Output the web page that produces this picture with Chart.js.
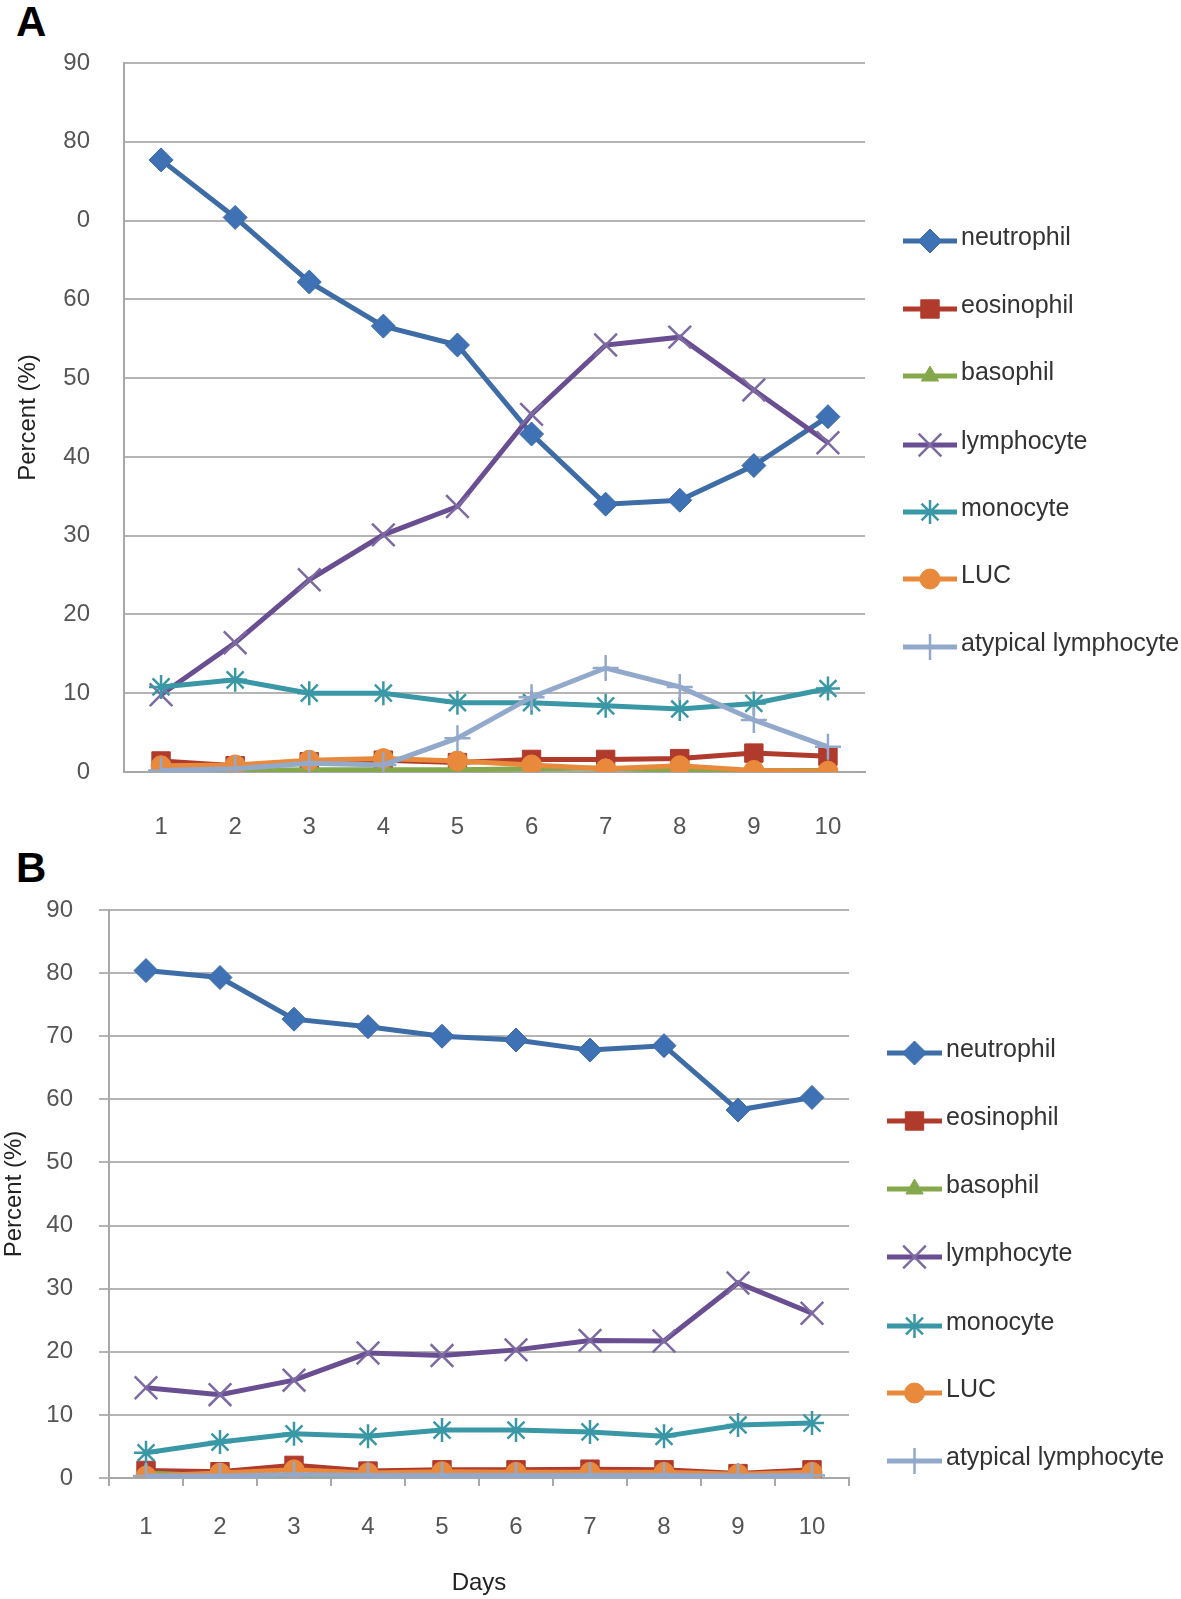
<!DOCTYPE html>
<html>
<head>
<meta charset="utf-8">
<script src="https://cdn.jsdelivr.net/npm/chart.js@4.4.1/dist/chart.umd.min.js"></script>
<style>
  body { margin: 0; background: #fff; width: 1181px; height: 1599px; position: relative; overflow: hidden; }
  .panel { position: absolute; left: 0; }
  .tag { position: absolute; font-family: "Liberation Sans", Arial, sans-serif; font-weight: bold; font-size: 42px; color: #000; }
</style>
</head>
<body>
<div class="tag" style="left:16px; top:-2px;">A</div>
<div class="panel" style="top:0;"><canvas id="chartA" width="1181" height="840"></canvas></div>
<div class="tag" style="left:16px; top:844px;">B</div>
<div class="panel" style="top:840px;"><canvas id="chartB" width="1181" height="759"></canvas></div>
<script>
'use strict';
//****************************
//DATA
//****************************
var days = ['1', '2', '3', '4', '5', '6', '7', '8', '9', '10'];
var seriesNames = ['neutrophil', 'eosinophil', 'basophil', 'lymphocyte', 'monocyte', 'LUC', 'atypical lymphocyte'];

// panel A
var neutrophilA = [77.7, 70.4, 62.2, 56.6, 54.2, 42.9, 34.0, 34.5, 38.9, 45.1];
var eosinophilA = [1.4, 0.8, 1.3, 1.5, 1.2, 1.6, 1.6, 1.7, 2.4, 2.0];
var basophilA = [0.1, 0.2, 0.3, 0.3, 0.3, 0.4, 0.5, 0.2, 0.2, 0.2];
var lymphocyteA = [9.8, 16.4, 24.4, 30.1, 33.7, 45.4, 54.2, 55.2, 48.5, 41.8];
var monocyteA = [10.8, 11.7, 10.0, 10.0, 8.8, 8.8, 8.4, 8.0, 8.7, 10.6];
var lucA = [0.8, 0.9, 1.5, 1.7, 1.4, 0.9, 0.4, 0.8, 0.2, 0.1];
var atypicalA = [0.2, 0.4, 1.1, 0.9, 4.3, 9.5, 13.2, 10.8, 6.6, 3.2];
// the reference prints "0" where 70 should be
var tickLabelsA = ['0', '10', '20', '30', '40', '50', '60', '0', '80', '90'];

// panel B
var neutrophilB = [80.4, 79.3, 72.7, 71.5, 70.0, 69.4, 67.8, 68.5, 58.3, 60.3];
var eosinophilB = [1.2, 1.0, 2.0, 1.1, 1.3, 1.3, 1.4, 1.3, 0.7, 1.3];
var basophilB = [0.8, 0.3, 0.2, 0.4, 0.5, 0.3, 0.3, 0.2, 0.2, 0.4];
var lymphocyteB = [14.3, 13.2, 15.5, 19.8, 19.4, 20.3, 21.8, 21.7, 30.9, 26.1];
var monocyteB = [4.0, 5.7, 7.0, 6.6, 7.6, 7.6, 7.3, 6.6, 8.4, 8.7];
var lucB = [0.3, 0.8, 1.3, 0.8, 1.0, 0.9, 0.9, 0.9, 0.6, 0.9];
var atypicalB = [0.3, 0.3, 0.5, 0.4, 0.4, 0.4, 0.4, 0.4, 0.3, 0.4];
var tickLabelsB = ['0', '10', '20', '30', '40', '50', '60', '70', '80', '90'];

//****************************
//STYLES
//****************************
var FONT = '"Liberation Sans", Arial, sans-serif';
var styles = [
  { line: '#3d6ca6', fill: '#3f72b4', point: 'rectRot', r: 12, pw: 1 },
  { line: '#b03a2c', fill: '#b03a2c', point: 'rect', r: 13, pw: 1 },
  { line: '#86a84c', fill: '#86a84c', point: 'triangle', r: 10, pw: 1 },
  { line: '#6a4e92', fill: '#7d6aa2', point: 'crossRot', r: 16, pw: 2.5 },
  { line: '#3a97a6', fill: '#3a97a6', point: 'star', r: 12, pw: 2.5 },
  { line: '#e8893c', fill: '#e8893c', point: 'circle', r: 10, pw: 1 },
  { line: '#93a9cc', fill: '#93a9cc', point: 'cross', r: 13, pw: 2.5 }
];

function makeDatasets(arrays) {
  var out = [];
  for (var i = 0; i < arrays.length; i++) {
    var s = styles[i];
    var lineMark = s.point === 'crossRot' || s.point === 'star' || s.point === 'cross';
    out.push({
      label: seriesNames[i],
      data: arrays[i],
      borderColor: s.line,
      backgroundColor: s.fill,
      borderWidth: 5,
      pointStyle: s.point,
      pointRadius: s.r,
      pointBorderWidth: s.pw,
      pointBorderColor: lineMark ? s.fill : s.line,
      pointBackgroundColor: s.fill,
      tension: 0,
      order: arrays.length - i
    });
  }
  return out;
}

// legend drawn on the right, line sample + marker like the original
var sideLegend = {
  id: 'sideLegend',
  afterDraw: function(chart, args, opts) {
    var ctx = chart.ctx;
    var sets = chart.data.datasets;
    ctx.save();
    for (var i = 0; i < sets.length; i++) {
      var ds = sets[i];
      var y = opts.ys[i];
      ctx.strokeStyle = ds.borderColor;
      ctx.lineWidth = 5;
      ctx.beginPath();
      ctx.moveTo(opts.x0, y);
      ctx.lineTo(opts.x1, y);
      ctx.stroke();
      if (Chart.helpers && Chart.helpers.drawPoint) {
        ctx.fillStyle = ds.pointBackgroundColor;
        ctx.strokeStyle = ds.pointBorderColor;
        ctx.lineWidth = ds.pointBorderWidth;
        Chart.helpers.drawPoint(ctx, { pointStyle: ds.pointStyle, radius: ds.pointRadius, rotation: 0, borderWidth: ds.pointBorderWidth }, (opts.x0 + opts.x1) / 2, y);
      }
      ctx.fillStyle = '#333';
      ctx.font = '25px ' + FONT;
      ctx.textAlign = 'left';
      ctx.textBaseline = 'middle';
      ctx.fillText(ds.label, opts.textX, y - 3);
    }
    ctx.restore();
  }
};

function buildChart(id, arrays, tickLabels, cfg) {
  var ctx = document.getElementById(id).getContext('2d');
  return new Chart(ctx, {
    type: 'line',
    data: { labels: days, datasets: makeDatasets(arrays) },
    plugins: [sideLegend],
    options: {
      responsive: false,
      animation: false,
      layout: { padding: { left: 0, top: cfg.top, right: cfg.right, bottom: 0 } },
      plugins: {
        legend: { display: false },
        tooltip: { enabled: false },
        sideLegend: cfg.legend
      },
      scales: {
        x: {
          offset: true,
          afterFit: function(scale) { scale.height = cfg.xHeight; },
          grid: {
            display: cfg.xTicks,
            drawOnChartArea: false,
            drawTicks: true,
            tickLength: 8,
            offset: true,
            color: '#a8a8a8',
            lineWidth: 2
          },
          border: { display: true, color: '#a8a8a8', width: 2 },
          ticks: { color: '#555', font: { family: FONT, size: 24 }, padding: cfg.xPad, maxRotation: 0 },
          title: {
            display: cfg.xTitle,
            text: 'Days',
            color: '#222',
            font: { family: FONT, size: 24 },
            padding: { top: 0, bottom: 1 }
          }
        },
        y: {
          min: 0,
          max: 90,
          afterFit: function(scale) { scale.width = cfg.yWidth; },
          afterBuildTicks: function(scale) {
            var t = [];
            for (var v = 0; v <= 90; v += 10) t.push({ value: v });
            scale.ticks = t;
          },
          grid: {
            color: '#b4b4b4',
            lineWidth: 2,
            drawTicks: cfg.yTicks,
            tickLength: 10
          },
          border: { display: true, color: '#a8a8a8', width: 2 },
          ticks: {
            color: '#555',
            font: { family: FONT, size: 24 },
            padding: cfg.yPad,
            callback: function(value) { return tickLabels[Math.round(value / 10)]; }
          },
          title: {
            display: true,
            text: 'Percent (%)',
            color: '#222',
            font: { family: FONT, size: 24 },
            padding: { top: cfg.yTitlePad, bottom: cfg.yTitlePad }
          }
        }
      }
    }
  });
}

buildChart('chartA',
  [neutrophilA, eosinophilA, basophilA, lymphocyteA, monocyteA, lucA, atypicalA],
  tickLabelsA,
  {
    top: 63, right: 316, xHeight: 68, xPad: 33, xTicks: false, xTitle: false,
    yWidth: 124, yPad: 34, yTicks: false, yTitlePad: 14,
    legend: { x0: 903, x1: 957, textX: 961, ys: [241, 309, 376, 445, 512, 579, 647] }
  });

buildChart('chartB',
  [neutrophilB, eosinophilB, basophilB, lymphocyteB, monocyteB, lucB, atypicalB],
  tickLabelsB,
  {
    top: 70, right: 332, xHeight: 121, xPad: 27, xTicks: true, xTitle: true,
    yWidth: 109, yPad: 26, yTicks: true, yTitlePad: 0,
    legend: { x0: 887, x1: 942, textX: 946, ys: [213, 281, 349, 417, 486, 553, 621] }
  });
</script>
</body>
</html>
